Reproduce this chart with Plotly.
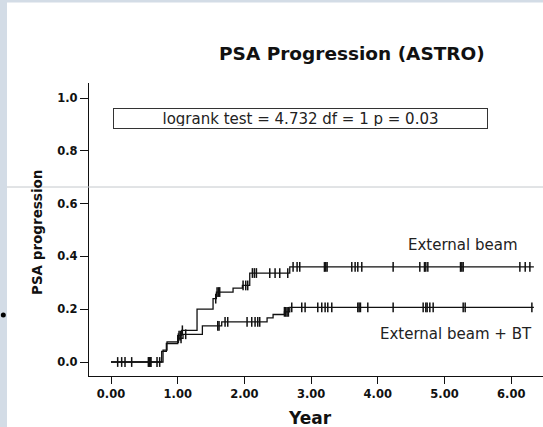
import numpy as np
import plotly.graph_objects as go

# ---- data ----
eb_times = [0, 0.78, 0.84, 1.00, 1.06, 1.29, 1.53, 1.58, 1.83, 1.97, 2.08, 2.68]
eb_vals = [0, 0.045, 0.076, 0.10, 0.12, 0.20, 0.24, 0.265, 0.28, 0.29, 0.337, 0.36]
eb_censor = [0.10, 0.21, 0.56, 0.58, 0.60, 0.69, 1.02, 1.04, 1.07, 1.57, 1.59, 1.61, 1.63,
             1.98, 2.02, 2.05, 2.12, 2.15, 2.18, 2.38, 2.46, 2.53, 2.65,
             2.73, 2.79, 2.83, 3.20, 3.22, 3.24, 3.61, 3.66, 3.70, 3.76, 4.23,
             4.63, 4.70, 4.72, 4.75, 5.24, 5.26, 5.28, 6.13, 6.21, 6.28]

bt_times = [0, 0.76, 0.83, 1.00, 1.08, 1.37, 1.66, 2.34, 2.43, 2.60, 2.68]
bt_vals = [0, 0.04, 0.07, 0.09, 0.105, 0.137, 0.152, 0.167, 0.18, 0.19, 0.207]
bt_censor = [0.16, 0.31, 0.57, 0.59, 0.73, 1.01, 1.05, 1.12, 1.60, 1.62, 1.71, 1.75,
             2.04, 2.11, 2.16, 2.20, 2.23, 2.60, 2.62, 2.64, 2.66,
             2.71, 2.86, 2.91, 3.10, 3.16, 3.21, 3.25, 3.31, 3.70, 3.72, 3.74, 3.85,
             4.23, 4.68, 4.72, 4.74, 4.78, 4.83, 5.28, 5.31, 6.31]

end_time = 6.34
x_ticks = [0, 1, 2, 3, 4, 5, 6]
x_tick_labels = ["0.00", "1.00", "2.00", "3.00", "4.00", "5.00", "6.00"]
y_ticks = [0.0, 0.2, 0.4, 0.6, 0.8, 1.0]
y_tick_labels = ["0.0", "0.2", "0.4", "0.6", "0.8", "1.0"]

FONT = "DejaVu Sans"
INK = "#111111"


def step_at(times, vals, t):
    t = np.asarray(t)
    idx = np.searchsorted(np.asarray(times), t, side="right") - 1
    return np.asarray(vals)[idx]


fig = go.Figure()
for times, vals, cens in [(eb_times, eb_vals, eb_censor), (bt_times, bt_vals, bt_censor)]:
    fig.add_trace(go.Scatter(
        x=list(times) + [end_time], y=list(vals) + [vals[-1]],
        mode="lines", line=dict(color=INK, width=1.3, shape="hv"),
        showlegend=False, hoverinfo="skip"))
    fig.add_trace(go.Scatter(
        x=cens, y=step_at(times, vals, cens), mode="markers",
        marker=dict(symbol="line-ns-open", size=7, color=INK, line=dict(color=INK, width=1.5)),
        showlegend=False, hoverinfo="skip"))

L, R, T, B = 89, 0, 83, 51
W, H = 543, 427
PW, PH = W - L - R, H - T - B


def px(xp):
    return (xp - L) / PW


def py(yp):
    return (H - B - yp) / PH


annotations = [
    dict(text="<b>PSA Progression (ASTRO)</b>", x=px(352), y=py(53), font=dict(size=18.5, color=INK, family=FONT)),
    dict(text="<b>PSA progression</b>", x=px(37), y=py(233), textangle=-90, font=dict(size=13.5, color=INK, family=FONT)),
    dict(text="<b>Year</b>", x=px(310), y=py(418), font=dict(size=17, color=INK, family=FONT)),
    dict(text="External beam", x=px(463), y=py(245), font=dict(size=15, color="#222222", family=FONT)),
    dict(text="External beam + BT", x=px(456), y=py(334), font=dict(size=15, color="#222222", family=FONT)),
    dict(text="logrank test = 4.732 df = 1 p = 0.03", x=px(300.5), y=py(118),
         font=dict(size=15, color="#222222", family=FONT),
         bordercolor="#333333", borderwidth=1, borderpad=2, width=369, height=15, bgcolor="white"),
]
for a in annotations:
    a.update(xref="paper", yref="paper", showarrow=False, xanchor="center", yanchor="middle")

shapes = [
    dict(type="rect", xref="paper", yref="paper", x0=px(0), x1=px(7), y0=py(427), y1=py(0),
         fillcolor="#d3dce6", line=dict(width=0), layer="below"),
    dict(type="rect", xref="paper", yref="paper", x0=px(0), x1=px(543), y0=py(2.5), y1=py(0),
         fillcolor="#d3dce6", line=dict(width=0), layer="below"),
    dict(type="line", xref="paper", yref="paper", x0=px(7), x1=px(543), y0=py(187), y1=py(187),
         line=dict(color="#c4c8cc", width=1), layer="above"),
    dict(type="circle", xref="paper", yref="paper", x0=px(0.8), x1=px(5.8), y0=py(317.5), y1=py(312.5),
         fillcolor="black", line=dict(width=0)),
]

fig.update_layout(
    width=W, height=H, margin=dict(l=L, r=R, t=T, b=B),
    paper_bgcolor="white", plot_bgcolor="white",
    font=dict(family=FONT, color=INK),
    annotations=annotations, shapes=shapes,
    xaxis=dict(range=[(L - 111) / 66.7, (W - 111) / 66.7], tickvals=x_ticks, ticktext=x_tick_labels,
               showgrid=False, zeroline=False, showline=True, linecolor=INK, linewidth=1.3,
               ticks="outside", ticklen=7, tickwidth=1.2, tickcolor=INK,
               tickfont=dict(size=11.5, family=FONT, weight="bold", color=INK)),
    yaxis=dict(range=[(362 - 376) / 264, (362 - 83) / 264], tickvals=y_ticks, ticktext=y_tick_labels,
               showgrid=False, zeroline=False, showline=True, linecolor=INK, linewidth=1.3,
               ticks="outside", ticklen=8, tickwidth=1.2, tickcolor=INK,
               tickfont=dict(size=11.5, family=FONT, weight="bold", color=INK)),
)

fig.write_html(
    "out.html", config={"displayModeBar": False},
    post_script=("document.documentElement.style.overflow='hidden';"
                 "document.body.style.overflow='hidden';"
                 "document.body.style.margin='0px';"
                 "var d=document.getElementById('{plot_id}');"
                 "d.style.position='fixed';d.style.left='0px';d.style.top='0px';"))
